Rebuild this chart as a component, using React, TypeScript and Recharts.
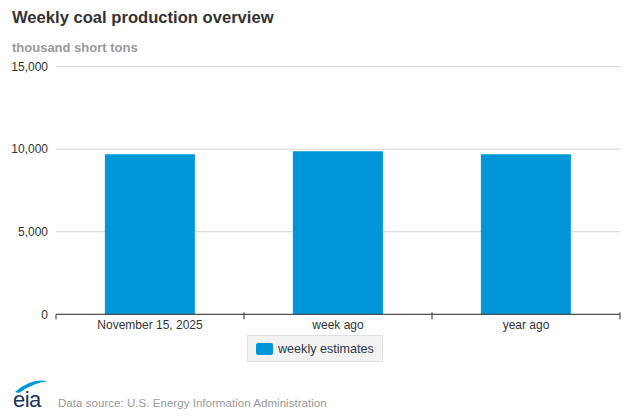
import React from "react";
import { BarChart, Bar, XAxis, YAxis, CartesianGrid } from "recharts";

const categories = ["November 15, 2025", "week ago", "year ago"];
const weeklyEstimates = [9690, 9875, 9690];
const yTicks = [0, 5000, 10000, 15000];

const chartData = categories.map((label, i) => ({
  label,
  value: weeklyEstimates[i],
}));

const FONT = "'Liberation Sans', Arial, Helvetica, sans-serif";
const BAR_COLOR = "#0096d7";

const PLOT_LEFT = 56;
const PLOT_RIGHT = 10;
const PLOT_WIDTH = 630 - PLOT_LEFT - PLOT_RIGHT;
const BAND = PLOT_WIDTH / categories.length;

const CategoryTick = (props: any) => {
  const { x, y, payload, index } = props;
  const half = BAND / 2;
  return (
    <g>
      {index === 0 && (
        <line x1={x - half} x2={x - half} y1={y} y2={y + 5} stroke="#333" />
      )}
      <line x1={x + half} x2={x + half} y1={y - 2} y2={y + 5} stroke="#333" />
      <text
        x={x}
        y={y + 15}
        textAnchor="middle"
        fill="#333"
        fontSize={12}
        fontFamily={FONT}
      >
        {payload.value}
      </text>
    </g>
  );
};

function EiaLogo() {
  return (
    <svg
      width={40}
      height={40}
      style={{ position: "absolute", left: 11, top: 379, overflow: "visible" }}
    >
      <path d="M4 13 Q19 -1 37 2 Q22 4 8 14 Z" fill={BAR_COLOR} />
      <text
        x={2}
        y={28}
        fontFamily={FONT}
        fontSize={22}
        fill="#1c3558"
        letterSpacing={-0.5}
      >
        eia
      </text>
    </svg>
  );
}

export default function App() {
  return (
    <div
      style={{
        position: "absolute",
        left: 0,
        top: 0,
        width: 630,
        height: 420,
        background: "#fff",
        fontFamily: FONT,
        overflow: "hidden",
      }}
    >
      <div
        style={{
          position: "absolute",
          left: 12,
          top: 8,
          fontSize: 16.6,
          fontWeight: "bold",
          color: "#333",
        }}
      >
        Weekly coal production overview
      </div>
      <div
        style={{
          position: "absolute",
          left: 12,
          top: 40,
          fontSize: 13,
          fontWeight: "bold",
          color: "#999",
        }}
      >
        thousand short tons
      </div>

      <div style={{ position: "absolute", left: 0, top: 0 }}>
        <BarChart
          width={630}
          height={420}
          data={chartData}
          margin={{ top: 66.7, right: PLOT_RIGHT, bottom: 75.7, left: 0 }}
          barCategoryGap="26%"
        >
          <CartesianGrid vertical={false} stroke="#d4d4d4" />
          <YAxis
            width={PLOT_LEFT}
            domain={[0, 15000]}
            ticks={yTicks}
            axisLine={false}
            tickLine={false}
            tickFormatter={(v: number) => v.toLocaleString("en-US")}
            tick={{ fill: "#333", fontSize: 12, fontFamily: FONT }}
          />
          <XAxis
            dataKey="label"
            height={30}
            axisLine={{ stroke: "#333" }}
            tickLine={false}
            tickSize={0}
            tickMargin={0}
            interval={0}
            tick={<CategoryTick />}
          />
          <Bar dataKey="value" fill={BAR_COLOR} isAnimationActive={false} />
        </BarChart>
      </div>

      <div
        style={{
          position: "absolute",
          left: 247,
          top: 335,
          width: 134,
          height: 25,
          background: "#f2f2f2",
          border: "1px solid #e0e0e0",
          display: "flex",
          alignItems: "center",
          boxSizing: "content-box",
        }}
      >
        <div
          style={{
            width: 17,
            height: 12,
            background: BAR_COLOR,
            borderRadius: 2,
            marginLeft: 8,
            marginRight: 5,
          }}
        />
        <span style={{ fontSize: 12.6, color: "#2b3a4a" }}>weekly estimates</span>
      </div>

      <EiaLogo />
      <div
        style={{
          position: "absolute",
          left: 58,
          top: 396,
          fontSize: 11.6,
          color: "#999",
        }}
      >
        Data source: U.S. Energy Information Administration
      </div>
    </div>
  );
}
